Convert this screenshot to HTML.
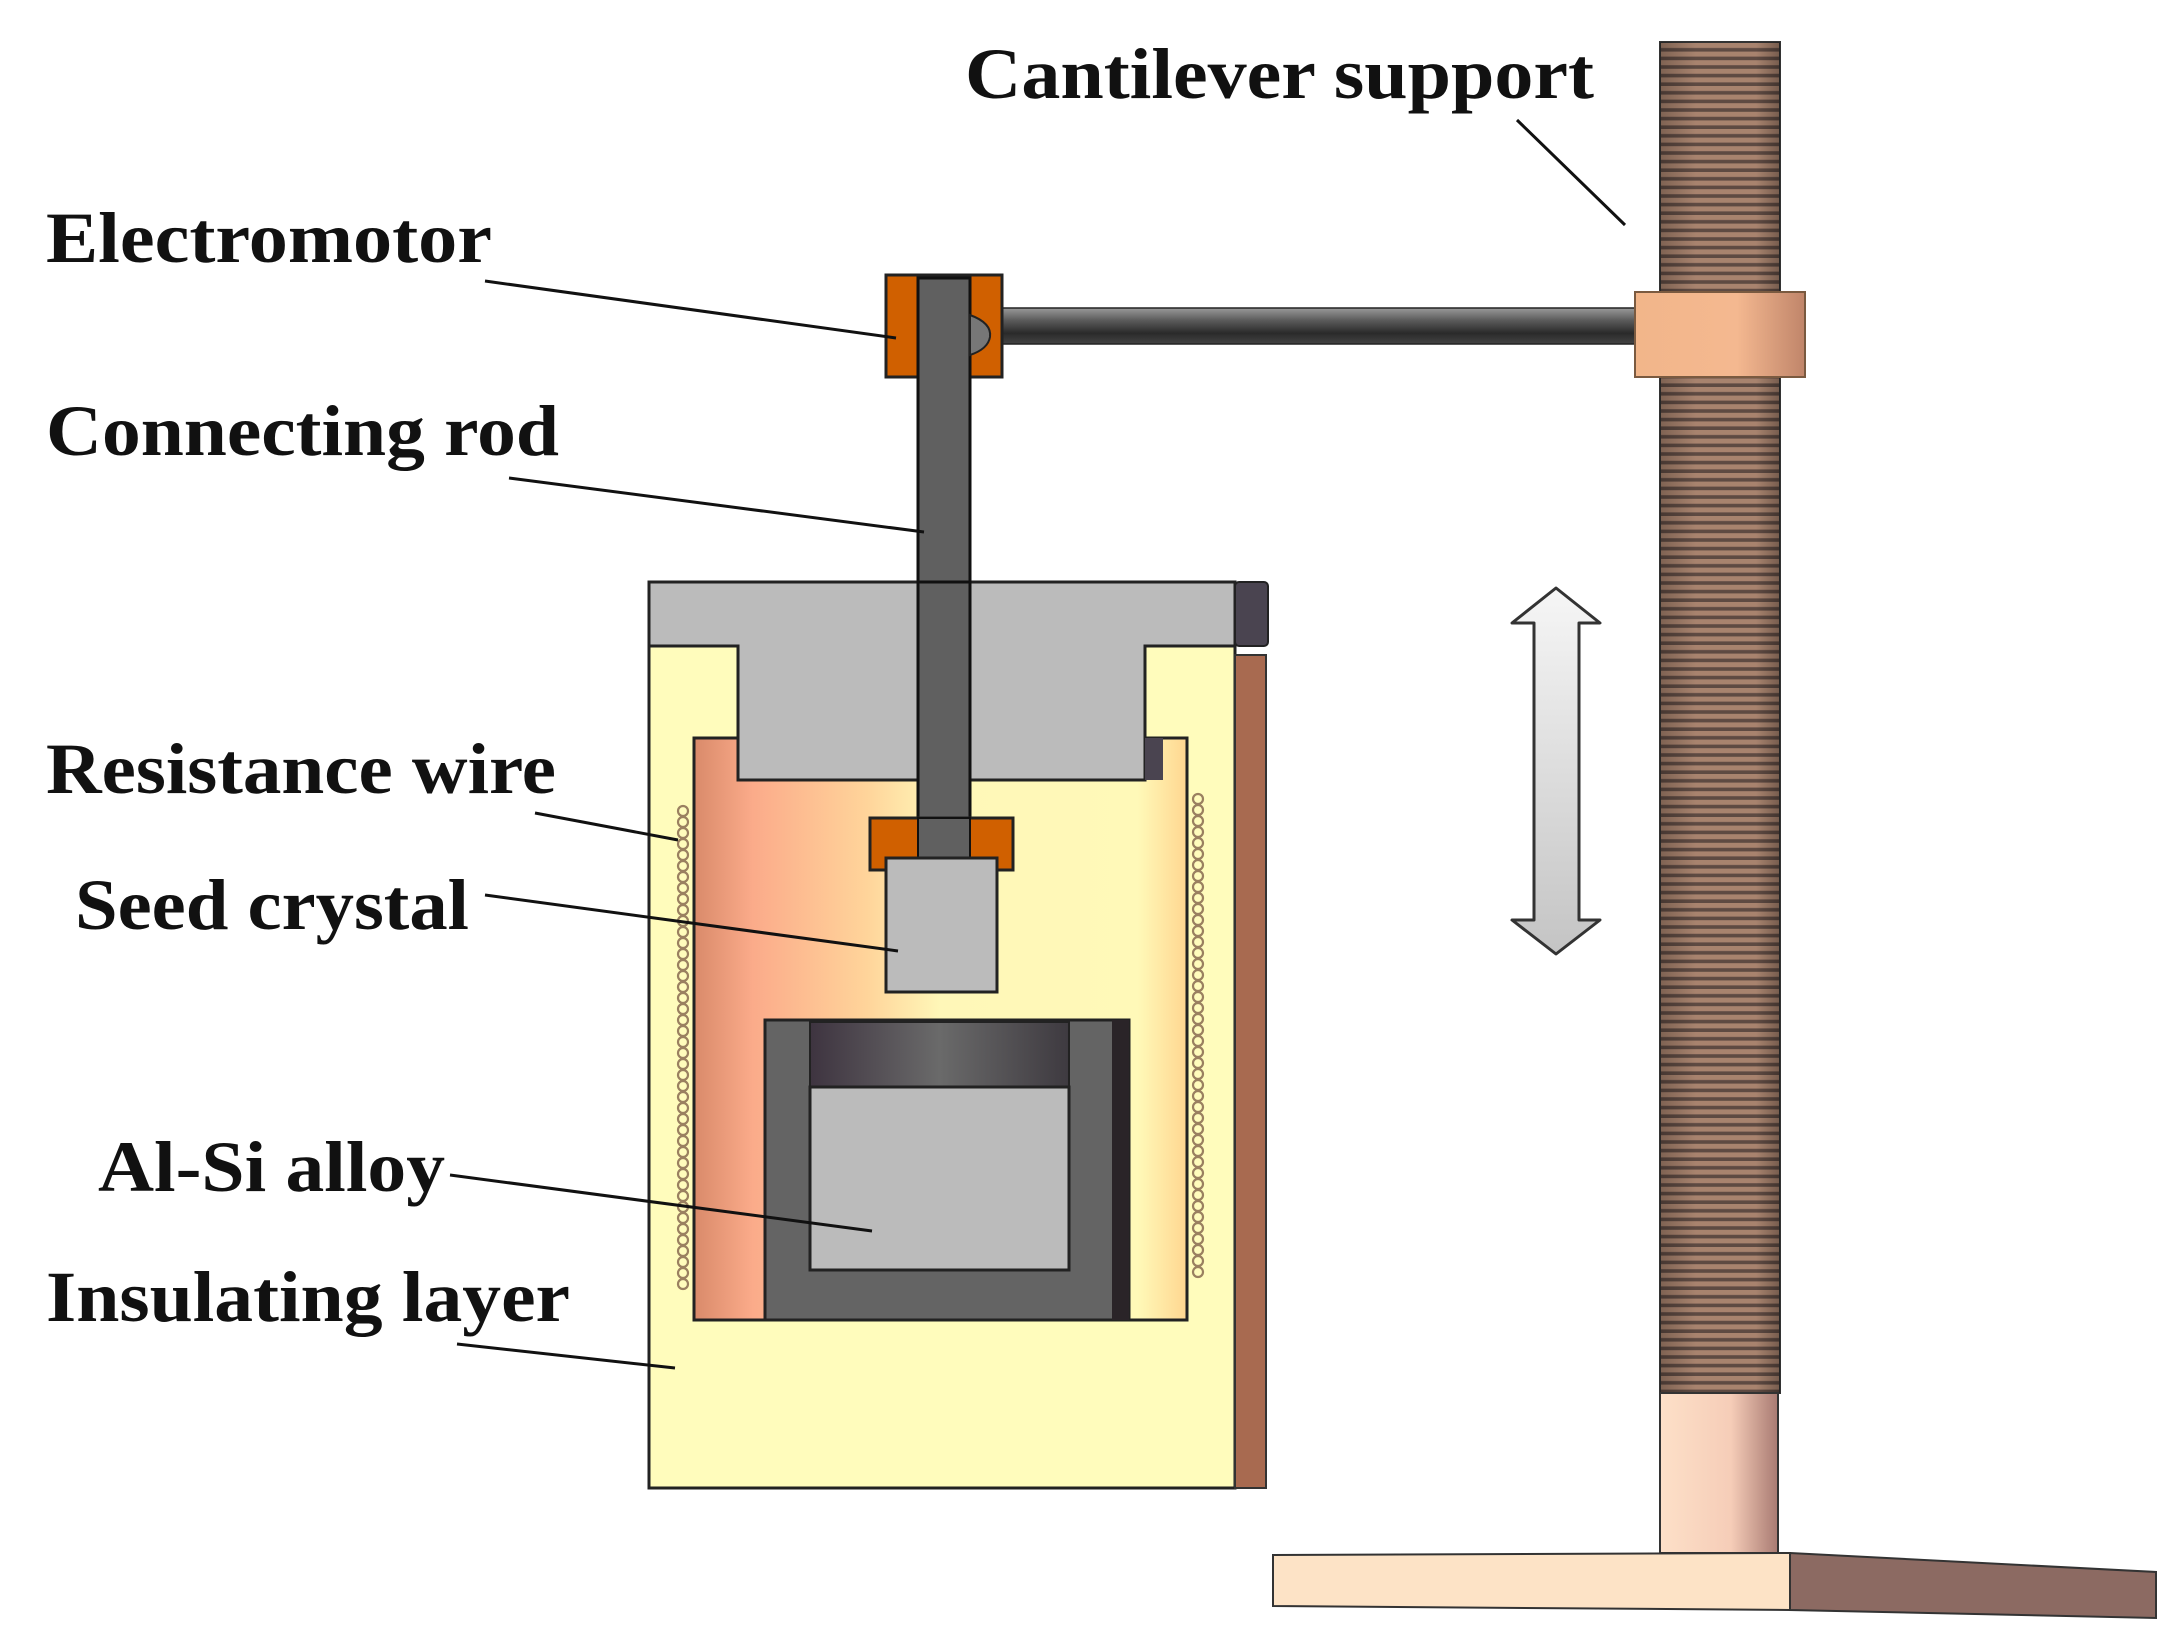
<!DOCTYPE html>
<html><head><meta charset="utf-8"><style>html,body{margin:0;padding:0;background:#fff}svg{display:block}</style></head>
<body>
<svg width="2175" height="1646" viewBox="0 0 2175 1646" xmlns="http://www.w3.org/2000/svg">
<defs>
<linearGradient id="chamber" x1="0" x2="1" y1="0" y2="0">
<stop offset="0" stop-color="#d98a6a"/><stop offset="0.12" stop-color="#fbab8a"/><stop offset="0.35" stop-color="#ffd49a"/><stop offset="0.5" stop-color="#fff7b8"/><stop offset="0.9" stop-color="#fff9b8"/><stop offset="1" stop-color="#ffd690"/>
</linearGradient>
<linearGradient id="arm" x1="0" x2="0" y1="0" y2="1">
<stop offset="0" stop-color="#9a9a9a"/><stop offset="0.35" stop-color="#5a5a5a"/><stop offset="0.7" stop-color="#2a2a2a"/><stop offset="1" stop-color="#444"/>
</linearGradient>
<linearGradient id="band" x1="0" x2="1">
<stop offset="0" stop-color="#3e3440"/><stop offset="0.5" stop-color="#6a6a6a"/><stop offset="1" stop-color="#3e3a40"/>
</linearGradient>
<linearGradient id="collar" x1="0" x2="1">
<stop offset="0" stop-color="#f2b68a"/><stop offset="0.6" stop-color="#f4b890"/><stop offset="1" stop-color="#c0856a"/>
</linearGradient>
<linearGradient id="plain" x1="0" x2="1">
<stop offset="0" stop-color="#fde0c8"/><stop offset="0.6" stop-color="#f6cdb8"/><stop offset="1" stop-color="#a87a72"/>
</linearGradient>
<linearGradient id="arrow" x1="0" x2="0" y1="0" y2="1">
<stop offset="0" stop-color="#f6f6f6"/><stop offset="1" stop-color="#c4c4c4"/>
</linearGradient>
<pattern id="thread" width="10" height="8.6" patternUnits="userSpaceOnUse">
<rect width="10" height="8.6" fill="#a8836e"/><rect y="5" width="10" height="3.6" fill="#5e4a42"/>
</pattern>
<linearGradient id="shade" x1="0" x2="1">
<stop offset="0" stop-color="#000" stop-opacity="0.25"/><stop offset="0.3" stop-color="#000" stop-opacity="0"/><stop offset="0.8" stop-color="#000" stop-opacity="0"/><stop offset="1" stop-color="#000" stop-opacity="0.3"/>
</linearGradient>
</defs>

<!-- pillar -->
<rect x="1660" y="42" width="120" height="1351" fill="url(#thread)" stroke="#333" stroke-width="2"/>
<rect x="1660" y="42" width="120" height="1351" fill="url(#shade)"/>
<rect x="1660" y="1393" width="118" height="160" fill="url(#plain)" stroke="#333" stroke-width="2"/>
<!-- base -->
<polygon points="1790,1553 2156,1572 2156,1618 1790,1610" fill="#8c6a62" stroke="#333" stroke-width="2"/>
<polygon points="1273,1555 1790,1553 1790,1610 1273,1606" fill="#fde3c6" stroke="#333" stroke-width="2"/>
<!-- arm -->
<rect x="1002" y="308" width="640" height="36" fill="url(#arm)" stroke="#222" stroke-width="1.5"/>
<rect x="1635" y="292" width="170" height="85" fill="url(#collar)" stroke="#7a5a40" stroke-width="2"/>
<!-- electromotor -->
<rect x="886" y="275" width="116" height="102" fill="#d06000" stroke="#222" stroke-width="3"/>
<rect x="918" y="278" width="52" height="580" fill="#606060" stroke="#111" stroke-width="3"/>
<path d="M970,315 q22,8 20,22 q-2,12 -20,18 z" fill="#777" stroke="#222" stroke-width="2"/>

<!-- insulating body -->
<rect x="649" y="646" width="586" height="842" fill="#fffcbc" stroke="#222" stroke-width="3"/>
<rect x="1235" y="655" width="31" height="833" fill="#a86a50" stroke="#333" stroke-width="2"/>
<!-- chamber -->
<rect x="694" y="738" width="493" height="582" fill="url(#chamber)" stroke="#222" stroke-width="3"/>
<!-- lid -->
<path d="M649,582 L1235,582 L1235,646 L1145,646 L1145,780 L738,780 L738,646 L649,646 Z" fill="#bbbbbb" stroke="#222" stroke-width="3"/>
<rect x="1235" y="582" width="33" height="64" rx="4" fill="#4a4450" stroke="#222" stroke-width="2"/>
<rect x="1145" y="738" width="18" height="42" fill="#4a4450"/>
<rect x="918" y="582" width="52" height="276" fill="#606060" stroke="#111" stroke-width="3"/>

<!-- coils -->
<g fill="none" stroke="#9a8060" stroke-width="2.2">
<g id="lc">
<circle cx="683" cy="811" r="5"/><circle cx="683" cy="822" r="5"/><circle cx="683" cy="833" r="5"/><circle cx="683" cy="844" r="5"/><circle cx="683" cy="855" r="5"/><circle cx="683" cy="866" r="5"/><circle cx="683" cy="877" r="5"/><circle cx="683" cy="888" r="5"/><circle cx="683" cy="899" r="5"/><circle cx="683" cy="910" r="5"/><circle cx="683" cy="921" r="5"/><circle cx="683" cy="932" r="5"/><circle cx="683" cy="943" r="5"/><circle cx="683" cy="954" r="5"/><circle cx="683" cy="965" r="5"/><circle cx="683" cy="976" r="5"/><circle cx="683" cy="987" r="5"/><circle cx="683" cy="998" r="5"/><circle cx="683" cy="1009" r="5"/><circle cx="683" cy="1020" r="5"/><circle cx="683" cy="1031" r="5"/><circle cx="683" cy="1042" r="5"/><circle cx="683" cy="1053" r="5"/><circle cx="683" cy="1064" r="5"/><circle cx="683" cy="1075" r="5"/><circle cx="683" cy="1086" r="5"/><circle cx="683" cy="1097" r="5"/><circle cx="683" cy="1108" r="5"/><circle cx="683" cy="1119" r="5"/><circle cx="683" cy="1130" r="5"/><circle cx="683" cy="1141" r="5"/><circle cx="683" cy="1152" r="5"/><circle cx="683" cy="1163" r="5"/><circle cx="683" cy="1174" r="5"/><circle cx="683" cy="1185" r="5"/><circle cx="683" cy="1196" r="5"/><circle cx="683" cy="1207" r="5"/><circle cx="683" cy="1218" r="5"/><circle cx="683" cy="1229" r="5"/><circle cx="683" cy="1240" r="5"/><circle cx="683" cy="1251" r="5"/><circle cx="683" cy="1262" r="5"/><circle cx="683" cy="1273" r="5"/><circle cx="683" cy="1284" r="5"/>
</g>
<use href="#lc" x="515" y="-12"/>
</g>

<!-- seed holder & crystal -->
<path d="M870,818 L1013,818 L1013,870 L997,870 L997,858 L886,858 L886,870 L870,870 Z" fill="#d06000" stroke="#222" stroke-width="3"/>
<rect x="918" y="818" width="52" height="40" fill="#606060" stroke="#111" stroke-width="2"/>
<rect x="886" y="858" width="111" height="134" fill="#bbbbbb" stroke="#222" stroke-width="3"/>

<!-- crucible -->
<rect x="765" y="1020" width="364" height="300" fill="#646464" stroke="#222" stroke-width="3"/>
<rect x="1112" y="1020" width="17" height="300" fill="#2a2428"/>
<rect x="810" y="1022" width="259" height="65" fill="url(#band)" stroke="#222" stroke-width="2"/>
<rect x="810" y="1087" width="259" height="183" fill="#bbbbbb" stroke="#222" stroke-width="3"/>

<!-- double arrow -->
<path d="M1556,588 L1600,623 L1579,623 L1579,920 L1600,920 L1556,954 L1512,920 L1534,920 L1534,623 L1512,623 Z" fill="url(#arrow)" stroke="#333" stroke-width="3" stroke-linejoin="round"/>

<!-- leader lines -->
<g stroke="#111" stroke-width="3">
<line x1="1517" y1="120" x2="1625" y2="225"/>
<line x1="485" y1="281" x2="896" y2="338"/>
<line x1="509" y1="478" x2="924" y2="532"/>
<line x1="535" y1="813" x2="678" y2="840"/>
<line x1="485" y1="895" x2="898" y2="951"/>
<line x1="450" y1="1175" x2="872" y2="1231"/>
<line x1="457" y1="1344" x2="675" y2="1368"/>
</g>

<!-- labels -->
<g font-family="'Liberation Serif', serif" font-weight="bold" font-size="72" fill="#111">
<text x="965" y="98" textLength="629" lengthAdjust="spacingAndGlyphs">Cantilever support</text>
<text x="46" y="262" textLength="446" lengthAdjust="spacingAndGlyphs">Electromotor</text>
<text x="46" y="455" textLength="513" lengthAdjust="spacingAndGlyphs">Connecting rod</text>
<text x="46" y="793" textLength="510" lengthAdjust="spacingAndGlyphs">Resistance wire</text>
<text x="75" y="929" textLength="394" lengthAdjust="spacingAndGlyphs">Seed crystal</text>
<text x="98" y="1191" textLength="347" lengthAdjust="spacingAndGlyphs">Al-Si alloy</text>
<text x="46" y="1321" textLength="524" lengthAdjust="spacingAndGlyphs">Insulating layer</text>
</g>
</svg>
</body></html>
